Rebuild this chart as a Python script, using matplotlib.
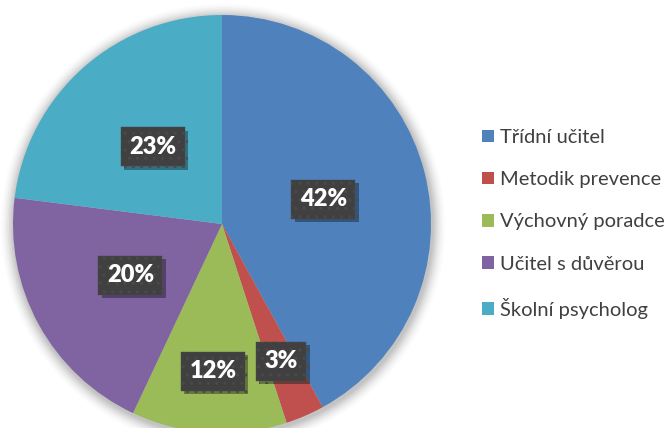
import matplotlib
matplotlib.use("Agg")
import matplotlib.pyplot as plt
import matplotlib.patches as mpatches
import matplotlib.patheffects as pe
import numpy as np

# data
categories = ["Třídní učitel", "Metodik prevence", "Výchovný poradce",
              "Učitel s důvěrou", "Školní psycholog"]
values = [42, 3, 12, 20, 23]
colors = ["#4F81BD", "#C0504D", "#9BBB59", "#8064A2", "#4BACC6"]
label_dist = [0.5, 0.71, 0.7, 0.5, 0.5]

plt.rcParams['font.family'] = ['Lato', 'DejaVu Sans']

W, H = 670, 428
fig = plt.figure(figsize=(W / 100, H / 100), dpi=100)
ax = fig.add_axes([0, 0, 1, 1])
R = 209.0
cx, cy = 222.0, 224.0

# soft shadow behind the pie
for i, a in enumerate(np.linspace(0.05, 0.012, 8)):
    ax.add_patch(mpatches.Circle((0.005, -0.01), 1 + 0.008 * (i + 1),
                                 facecolor='#000000', alpha=a, edgecolor='none', zorder=0))

wedges, _ = ax.pie(values, colors=colors, startangle=90, counterclock=False,
                   radius=1, wedgeprops=dict(linewidth=0), frame=True)
ax.set_xlim(-cx / R, (W - cx) / R)
ax.set_ylim(-(H - cy) / R, cy / R)
ax.set_aspect('auto')
ax.axis('off')

for w, v, d in zip(wedges, values, label_dist):
    ang = np.deg2rad((w.theta1 + w.theta2) / 2)
    x, y = d * np.cos(ang), d * np.sin(ang)
    t = ax.text(x, y - 0.005, f"{v}%", ha='center', va='center', fontsize=17,
                fontweight='heavy', color='white', zorder=5,
                bbox=dict(boxstyle='square,pad=0.36', facecolor='#404040',
                          edgecolor='#4a4a4a', linewidth=0.3, hatch='..'))
    t.get_bbox_patch().set_path_effects(
        [pe.withSimplePatchShadow(offset=(2.5, -2.5), shadow_rgbFace='black', alpha=0.35)])

handles = [mpatches.Patch(facecolor=c, edgecolor='none') for c in colors]
leg = fig.legend(handles, categories, loc='center left',
                 bbox_to_anchor=(482 / W, 1 - 224 / H), frameon=False,
                 fontsize=14.5, handlelength=0.58, handleheight=0.58,
                 handletextpad=0.3, labelspacing=1.25, borderaxespad=0,
                 borderpad=0)
for t in leg.get_texts():
    t.set_color('#404040')

fig.savefig("out.png", dpi=100)
